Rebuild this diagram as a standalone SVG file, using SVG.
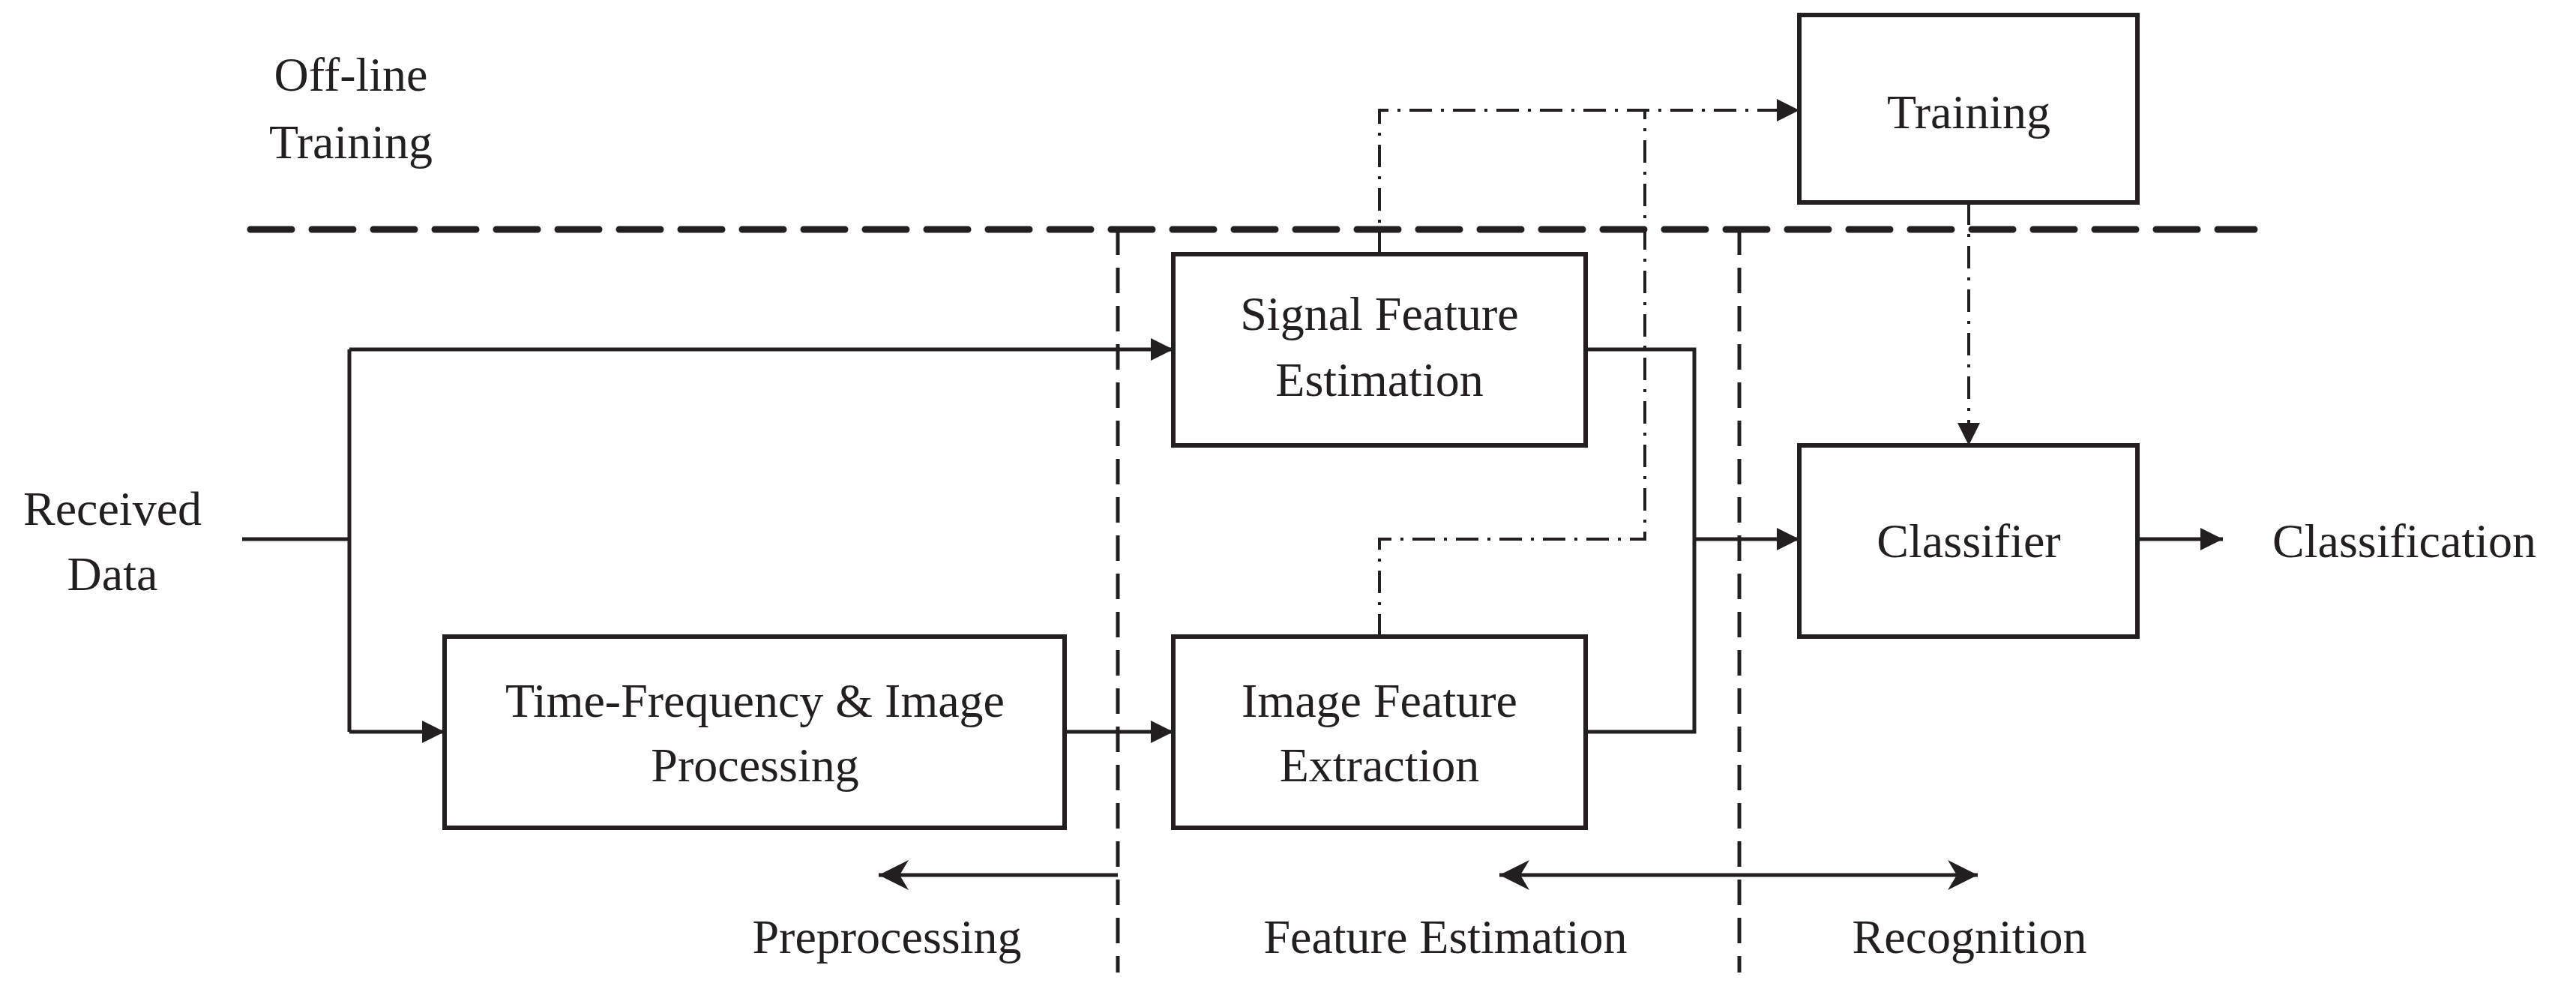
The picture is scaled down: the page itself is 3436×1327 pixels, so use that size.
<svg xmlns="http://www.w3.org/2000/svg" width="3436" height="1327" viewBox="0 0 3436 1327">
<style>
text{font-family:"Liberation Serif","Times New Roman",serif;font-size:64px;fill:#231f20;text-anchor:middle}
.box{fill:#fff;stroke:#231f20;stroke-width:6}
.ln{fill:none;stroke:#231f20;stroke-width:5}
.dd{fill:none;stroke:#231f20;stroke-width:4;stroke-dasharray:30 12 4 12}
.vd{fill:none;stroke:#231f20;stroke-width:5;stroke-dasharray:34 17}
.hd{fill:none;stroke:#231f20;stroke-width:9;stroke-dasharray:55 27;stroke-linecap:round}
</style>
<defs>
<marker id="ah" viewBox="0 0 10 10" refX="10" refY="5" markerWidth="30" markerHeight="30" markerUnits="userSpaceOnUse" orient="auto-start-reverse"><path d="M0,0L10,5L0,10z" fill="#231f20"/></marker>
<marker id="ahb" viewBox="0 0 10 10" refX="10" refY="5" markerWidth="40" markerHeight="40" markerUnits="userSpaceOnUse" orient="auto-start-reverse"><path d="M0,0L10,5L0,10L3,5z" fill="#231f20"/></marker>
</defs>
<g id="partitions">
<path class="hd" d="M334,306H3007"/>
<path class="vd" d="M1491,306V1297"/>
<path class="vd" d="M2320,306V1297"/>
</g>
<g id="connectors">
<path class="ln" d="M323,719H466"/>
<path class="ln" d="M466,466V976"/>
<path class="ln" d="M466,466H1565" marker-end="url(#ah)"/>
<path class="ln" d="M466,976H593" marker-end="url(#ah)"/>
<path class="ln" d="M1420,976H1565" marker-end="url(#ah)"/>
<path class="ln" d="M2115,466H2260V976H2115"/>
<path class="ln" d="M2260,719H2400" marker-end="url(#ah)"/>
<path class="ln" d="M2851,719H2965" marker-end="url(#ah)"/>
<path class="dd" d="M1840,339V147H2400" marker-end="url(#ah)"/>
<path class="dd" d="M1840,849V719H2194V147"/>
<path class="dd" d="M2626,270V594" marker-end="url(#ah)"/>
<path class="ln" d="M1491,1167H1172" marker-end="url(#ahb)"/>
<path class="ln" d="M2000,1167H2638" marker-start="url(#ahb)" marker-end="url(#ahb)"/>
</g>
<g id="offline"><text x="468" y="121">Off-line</text><text x="468" y="211">Training</text></g>
<g id="received"><text x="150" y="700">Received</text><text x="150" y="787">Data</text></g>
<g id="training"><rect class="box" x="2400" y="20" width="451" height="250"/><text x="2626" y="171">Training</text></g>
<g id="signal"><rect class="box" x="1565" y="339" width="550" height="255"/><text x="1840" y="440">Signal Feature</text><text x="1840" y="528">Estimation</text></g>
<g id="tf"><rect class="box" x="593" y="849" width="827" height="255"/><text x="1007" y="956">Time-Frequency &amp; Image</text><text x="1007" y="1042">Processing</text></g>
<g id="image"><rect class="box" x="1565" y="849" width="550" height="255"/><text x="1840" y="956">Image Feature</text><text x="1840" y="1042">Extraction</text></g>
<g id="classifier"><rect class="box" x="2400" y="594" width="451" height="255"/><text x="2626" y="743">Classifier</text></g>
<g id="labels">
<text x="3031" y="743" style="text-anchor:start">Classification</text>
<text x="1183" y="1271">Preprocessing</text>
<text x="1928" y="1271">Feature Estimation</text>
<text x="2627" y="1271">Recognition</text>
</g>
</svg>
